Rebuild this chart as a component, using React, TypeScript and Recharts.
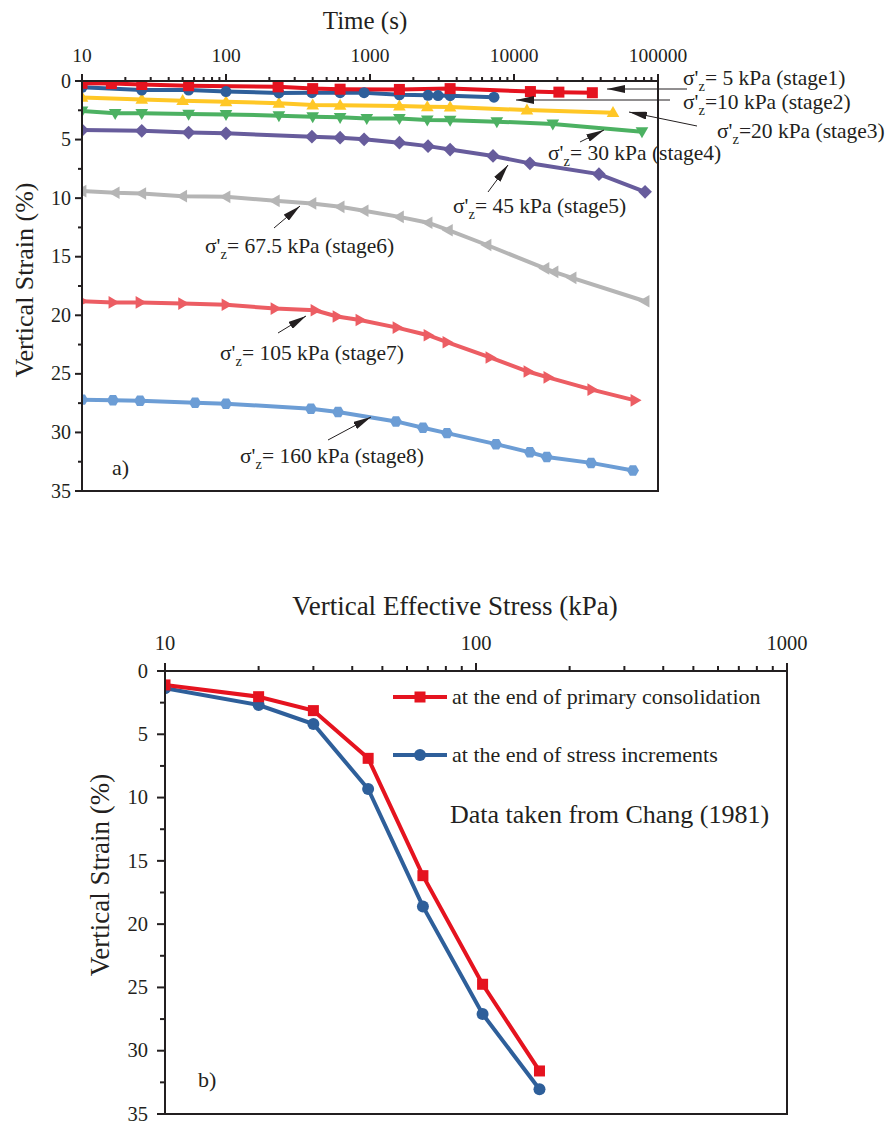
import React from "react";
import { LineChart, Line, XAxis, YAxis } from "recharts";

const FONT = "'Liberation Serif', 'Times New Roman', Times, serif";
const INK = "#231f20";

// panel a) vertical strain (%) against time (s) for each load stage
const stage1Time = [10, 16, 26, 55, 230, 400, 620, 1600, 3600, 13000, 20500, 35000];
const stage1Strain = [0.2, 0.22, 0.3, 0.4, 0.5, 0.65, 0.7, 0.72, 0.65, 0.9, 0.95, 1.0];

const stage2Time = [10, 26, 55, 100, 233, 395, 620, 910, 1600, 2530, 2970, 3600, 7260];
const stage2Strain = [0.54, 0.77, 0.77, 0.9, 1.02, 1.0, 1.0, 1.0, 1.18, 1.22, 1.24, 1.25, 1.38];

const stage3Time = [10, 26, 50, 100, 233, 400, 620, 1600, 2500, 3600, 12300, 48700];
const stage3Strain = [1.4, 1.57, 1.68, 1.77, 1.9, 2.05, 2.08, 2.14, 2.2, 2.22, 2.48, 2.7];

const stage4Time = [10, 17, 26, 55, 100, 233, 400, 620, 950, 1600, 2500, 3600, 7600, 18600, 77400];
const stage4Strain = [2.56, 2.76, 2.76, 2.82, 2.85, 2.96, 3.05, 3.1, 3.2, 3.2, 3.33, 3.35, 3.47, 3.67, 4.33];

const stage5Time = [10, 26, 55, 100, 395, 620, 910, 1600, 2530, 3600, 7150, 12900, 38900, 81300];
const stage5Strain = [4.19, 4.25, 4.4, 4.47, 4.75, 4.84, 4.98, 5.27, 5.56, 5.85, 6.4, 7.03, 7.95, 9.46];

const stage6Time = [10, 17, 26, 50, 100, 220, 395, 620, 910, 1600, 2530, 3500, 6490, 16400, 18950, 25300, 81300];
const stage6Strain = [9.4, 9.54, 9.6, 9.83, 9.89, 10.23, 10.45, 10.74, 11.08, 11.6, 12.1, 12.74, 14.0, 16.0, 16.3, 16.8, 18.8];

const stage7Time = [10, 16.4, 25.3, 50, 100, 219, 415, 590, 852, 1540, 2530, 3425, 6810, 12500, 17200, 34700, 69200];
const stage7Strain = [18.8, 18.9, 18.9, 19.0, 19.1, 19.43, 19.57, 20.1, 20.4, 21.05, 21.7, 22.3, 23.6, 24.8, 25.3, 26.35, 27.26];

const stage8Time = [10, 16.4, 25.3, 61, 100, 389, 600, 1515, 2333, 3425, 7500, 12900, 16900, 34300, 67000];
const stage8Strain = [27.2, 27.26, 27.3, 27.46, 27.55, 27.97, 28.26, 29.06, 29.6, 30.06, 31.0, 31.7, 32.1, 32.6, 33.25];

// panel b) strain against vertical effective stress (kPa)
const stressKpa = [10, 20, 30, 45, 67.5, 105, 160];
const strainEndPrimary = [1.1, 2.03, 3.13, 6.9, 16.17, 24.75, 31.6];
const strainEndIncrement = [1.37, 2.69, 4.19, 9.32, 18.6, 27.1, 33.04];

// ticks
const timeMajor = [10, 100, 1000, 10000, 100000];
const stressMajor = [10, 100, 1000];
const minorSteps = [2, 3, 4, 5, 6, 7, 8, 9];
const strainTicks = [0, 2.5, 5, 7.5, 10, 12.5, 15, 17.5, 20, 22.5, 25, 27.5, 30, 32.5, 35];

const withMinors = (majors: number[]) => {
  const out: number[] = [];
  majors.forEach((m, i) => {
    out.push(m);
    if (i < majors.length - 1) minorSteps.forEach((s) => out.push(m * s));
  });
  return out;
};
const timeTicks = withMinors(timeMajor);
const stressTicks = withMinors(stressMajor);

const pts = (xs: number[], ys: number[]) => xs.map((x, i) => ({ x, y: ys[i] }));

type Shape = "square" | "circle" | "triUp" | "triDown" | "diamond" | "triLeft" | "triRight" | "hexagon";

function Marker({ cx, cy, shape, color, r }: { cx: number; cy: number; shape: Shape; color: string; r: number }) {
  if (cx == null || cy == null) return null;
  const p = (arr: number[][]) => arr.map(([dx, dy]) => `${cx + dx},${cy + dy}`).join(" ");
  switch (shape) {
    case "square":
      return <rect x={cx - r} y={cy - r} width={2 * r} height={2 * r} fill={color} />;
    case "circle":
      return <circle cx={cx} cy={cy} r={r} fill={color} />;
    case "triUp":
      return <polygon points={p([[0, -r * 1.2], [r * 1.15, r * 0.8], [-r * 1.15, r * 0.8]])} fill={color} />;
    case "triDown":
      return <polygon points={p([[0, r * 1.2], [r * 1.15, -r * 0.8], [-r * 1.15, -r * 0.8]])} fill={color} />;
    case "triLeft":
      return <polygon points={p([[-r * 1.2, 0], [r * 0.8, -r * 1.15], [r * 0.8, r * 1.15]])} fill={color} />;
    case "triRight":
      return <polygon points={p([[r * 1.2, 0], [-r * 0.8, -r * 1.15], [-r * 0.8, r * 1.15]])} fill={color} />;
    case "diamond":
      return <polygon points={p([[0, -r * 1.25], [r * 1.25, 0], [0, r * 1.25], [-r * 1.25, 0]])} fill={color} />;
    case "hexagon": {
      const a = [0, 60, 120, 180, 240, 300].map((d) => {
        const t = (d * Math.PI) / 180;
        return [Math.cos(t) * r * 1.1, Math.sin(t) * r * 1.1];
      });
      return <polygon points={p(a)} fill={color} />;
    }
  }
  return null;
}

const stages = [
  { id: "s8", time: stage8Time, strain: stage8Strain, color: "#6c9dd5", shape: "hexagon" as Shape },
  { id: "s7", time: stage7Time, strain: stage7Strain, color: "#ec5d63", shape: "triRight" as Shape },
  { id: "s6", time: stage6Time, strain: stage6Strain, color: "#b5b5b5", shape: "triLeft" as Shape },
  { id: "s5", time: stage5Time, strain: stage5Strain, color: "#675c9c", shape: "diamond" as Shape },
  { id: "s4", time: stage4Time, strain: stage4Strain, color: "#4cb162", shape: "triDown" as Shape },
  { id: "s3", time: stage3Time, strain: stage3Strain, color: "#ffc726", shape: "triUp" as Shape },
  { id: "s2", time: stage2Time, strain: stage2Strain, color: "#2e5f9a", shape: "circle" as Shape },
  { id: "s1", time: stage1Time, strain: stage1Strain, color: "#e5131f", shape: "square" as Shape },
];

// tick renderers: tickSize/tickMargin are 0, so x/y is the point on the axis line
const makeXTick = (majors: number[], majorLen: number, minorLen: number, gap: number, fs: number) =>
  (props: any) => {
    const { x, y, payload } = props;
    const major = majors.includes(payload.value);
    const len = major ? majorLen : minorLen;
    return (
      <g>
        <line x1={x} x2={x} y1={y} y2={y - len} stroke={INK} strokeWidth={2} />
        {major && (
          <text x={x} y={y - gap} textAnchor="middle" fontSize={fs} fontFamily={FONT} fill={INK}>
            {payload.value}
          </text>
        )}
      </g>
    );
  };

const makeYTick = (majorLen: number, minorLen: number, gap: number, fs: number) => (props: any) => {
  const { x, y, payload } = props;
  const major = payload.value % 5 === 0;
  const len = major ? majorLen : minorLen;
  return (
    <g>
      <line x1={x - len} x2={x} y1={y} y2={y} stroke={INK} strokeWidth={2} />
      {major && (
        <text x={x - gap} y={y} dy="0.33em" textAnchor="end" fontSize={fs} fontFamily={FONT} fill={INK}>
          {payload.value}
        </text>
      )}
    </g>
  );
};

const Sigma = ({ x, y, rest }: { x: number; y: number; rest: string }) => (
  <text x={x} y={y} fontSize={21.5} fontFamily={FONT} fill={INK} style={{ whiteSpace: "pre" }}>
    σ'
    <tspan dy={6} fontSize={14.5}>
      z
    </tspan>
    <tspan dy={-6}>{rest}</tspan>
  </text>
);

const Arrow = ({ x1, y1, x2, y2 }: { x1: number; y1: number; x2: number; y2: number }) => (
  <line x1={x1} y1={y1} x2={x2} y2={y2} stroke={INK} strokeWidth={1} markerEnd="url(#arrowHead)" />
);

export default function App() {
  return (
    <div style={{ position: "absolute", left: 0, top: 0, width: 891, height: 1122, background: "#fff" }}>
      <div style={{ position: "absolute", left: 0, top: 0 }}>
        <LineChart width={891} height={520} margin={{ top: 41, right: 233, bottom: 29, left: 22 }}>
          <XAxis
            dataKey="x"
            type="number"
            scale="log"
            domain={[10, 100000]}
            allowDataOverflow
            orientation="top"
            height={40}
            ticks={timeTicks}
            interval={0}
            tickSize={0}
            tickMargin={0}
            tickLine={false}
            axisLine={{ stroke: INK, strokeWidth: 2 }}
            tick={makeXTick(timeMajor, 7, 4, 19, 19.5)}
          />
          <YAxis
            type="number"
            domain={[0, 35]}
            reversed
            allowDataOverflow
            width={60}
            ticks={strainTicks}
            interval={0}
            tickSize={0}
            tickMargin={0}
            tickLine={false}
            axisLine={{ stroke: INK, strokeWidth: 2 }}
            tick={makeYTick(7, 4, 11, 20)}
          />
          {stages.map((s) => (
            <Line
              key={s.id}
              data={pts(s.time, s.strain)}
              dataKey="y"
              type="linear"
              stroke={s.color}
              strokeWidth={4}
              isAnimationActive={false}
              activeDot={false}
              dot={(p: any) => <Marker key={p.index} cx={p.cx} cy={p.cy} shape={s.shape} color={s.color} r={5.5} />}
            />
          ))}
        </LineChart>
      </div>

      <div style={{ position: "absolute", left: 0, top: 590 }}>
        <LineChart width={891} height={545} margin={{ top: 41, right: 104, bottom: 21, left: 105 }}>
          <XAxis
            dataKey="x"
            type="number"
            scale="log"
            domain={[10, 1000]}
            allowDataOverflow
            orientation="top"
            height={40}
            ticks={stressTicks}
            interval={0}
            tickSize={0}
            tickMargin={0}
            tickLine={false}
            axisLine={{ stroke: INK, strokeWidth: 2 }}
            tick={makeXTick(stressMajor, 8, 5, 21, 20.5)}
          />
          <YAxis
            type="number"
            domain={[0, 35]}
            reversed
            allowDataOverflow
            width={60}
            ticks={strainTicks}
            interval={0}
            tickSize={0}
            tickMargin={0}
            tickLine={false}
            axisLine={{ stroke: INK, strokeWidth: 2 }}
            tick={makeYTick(8, 5, 17, 20.5)}
          />
          <Line
            data={pts(stressKpa, strainEndIncrement)}
            dataKey="y"
            type="linear"
            stroke="#2e5f9a"
            strokeWidth={4}
            isAnimationActive={false}
            activeDot={false}
            dot={(p: any) => <Marker key={p.index} cx={p.cx} cy={p.cy} shape="circle" color="#2e5f9a" r={6} />}
          />
          <Line
            data={pts(stressKpa, strainEndPrimary)}
            dataKey="y"
            type="linear"
            stroke="#e5131f"
            strokeWidth={4}
            isAnimationActive={false}
            activeDot={false}
            dot={(p: any) => <Marker key={p.index} cx={p.cx} cy={p.cy} shape="square" color="#e5131f" r={5.5} />}
          />
        </LineChart>
      </div>

      <svg
        width={891}
        height={1122}
        style={{ position: "absolute", left: 0, top: 0, pointerEvents: "none" }}
      >
        <defs>
          <marker
            id="arrowHead"
            viewBox="0 0 18 8"
            refX={18}
            refY={4}
            markerWidth={18}
            markerHeight={8}
            markerUnits="userSpaceOnUse"
            orient="auto"
          >
            <path d="M0,0 L18,4 L0,8 z" fill={INK} />
          </marker>
        </defs>

        {/* panel a) frame, titles, annotations */}
        <rect x={82} y={81} width={576} height={410} fill="none" stroke={INK} strokeWidth={2} />
        <text x={365} y={29} textAnchor="middle" fontSize={25} fontFamily={FONT} fill={INK}>
          Time (s)
        </text>
        <text
          transform="translate(24,280) rotate(-90)"
          textAnchor="middle"
          dy="0.35em"
          fontSize={26}
          fontFamily={FONT}
          fill={INK}
        >
          Vertical Strain (%)
        </text>
        <text x={112} y={475} fontSize={22} fontFamily={FONT} fill={INK}>
          a)
        </text>

        <Sigma x={683} y={85} rest="= 5 kPa (stage1)" />
        <Arrow x1={687} y1={89} x2={607} y2={89} />
        <Sigma x={683} y={109} rest="=10 kPa (stage2)" />
        <Arrow x1={670} y1={100} x2={516} y2={100} />
        <Sigma x={717} y={138} rest="=20 kPa (stage3)" />
        <Arrow x1={697} y1={126} x2={629} y2={112} />
        <Sigma x={548} y={160} rest="= 30 kPa (stage4)" />
        <Arrow x1={580} y1={142} x2={604} y2={130} />
        <Sigma x={453} y={213} rest="= 45 kPa (stage5)" />
        <Arrow x1={488} y1={192} x2={508} y2={165} />
        <Sigma x={205} y={253} rest="= 67.5 kPa (stage6)" />
        <Arrow x1={274} y1={228} x2={300} y2={206} />
        <Sigma x={220} y={360} rest="= 105 kPa (stage7)" />
        <Arrow x1={278} y1={333} x2={306} y2={316} />
        <Sigma x={240} y={463} rest="= 160 kPa (stage8)" />
        <Arrow x1={328} y1={440} x2={371} y2={417} />

        {/* panel b) frame, titles, legend */}
        <rect x={165} y={671} width={622} height={443} fill="none" stroke={INK} strokeWidth={2} />
        <text x={455} y={615} textAnchor="middle" fontSize={27} fontFamily={FONT} fill={INK}>
          Vertical Effective Stress (kPa)
        </text>
        <text
          transform="translate(100,875) rotate(-90)"
          textAnchor="middle"
          dy="0.35em"
          fontSize={27}
          fontFamily={FONT}
          fill={INK}
        >
          Vertical Strain (%)
        </text>
        <text x={198} y={1087} fontSize={22} fontFamily={FONT} fill={INK}>
          b)
        </text>

        <line x1={393} x2={447} y1={697} y2={697} stroke="#e5131f" strokeWidth={4} />
        <Marker cx={420} cy={697} shape="square" color="#e5131f" r={5.5} />
        <text x={452} y={704} fontSize={22} fontFamily={FONT} fill={INK}>
          at the end of primary consolidation
        </text>
        <line x1={393} x2={447} y1={755} y2={755} stroke="#2e5f9a" strokeWidth={4} />
        <Marker cx={420} cy={755} shape="circle" color="#2e5f9a" r={6} />
        <text x={452} y={762} fontSize={22} fontFamily={FONT} fill={INK}>
          at the end of stress increments
        </text>
        <text x={450} y={823} fontSize={26} fontFamily={FONT} fill={INK}>
          Data taken from Chang (1981)
        </text>
      </svg>
    </div>
  );
}
